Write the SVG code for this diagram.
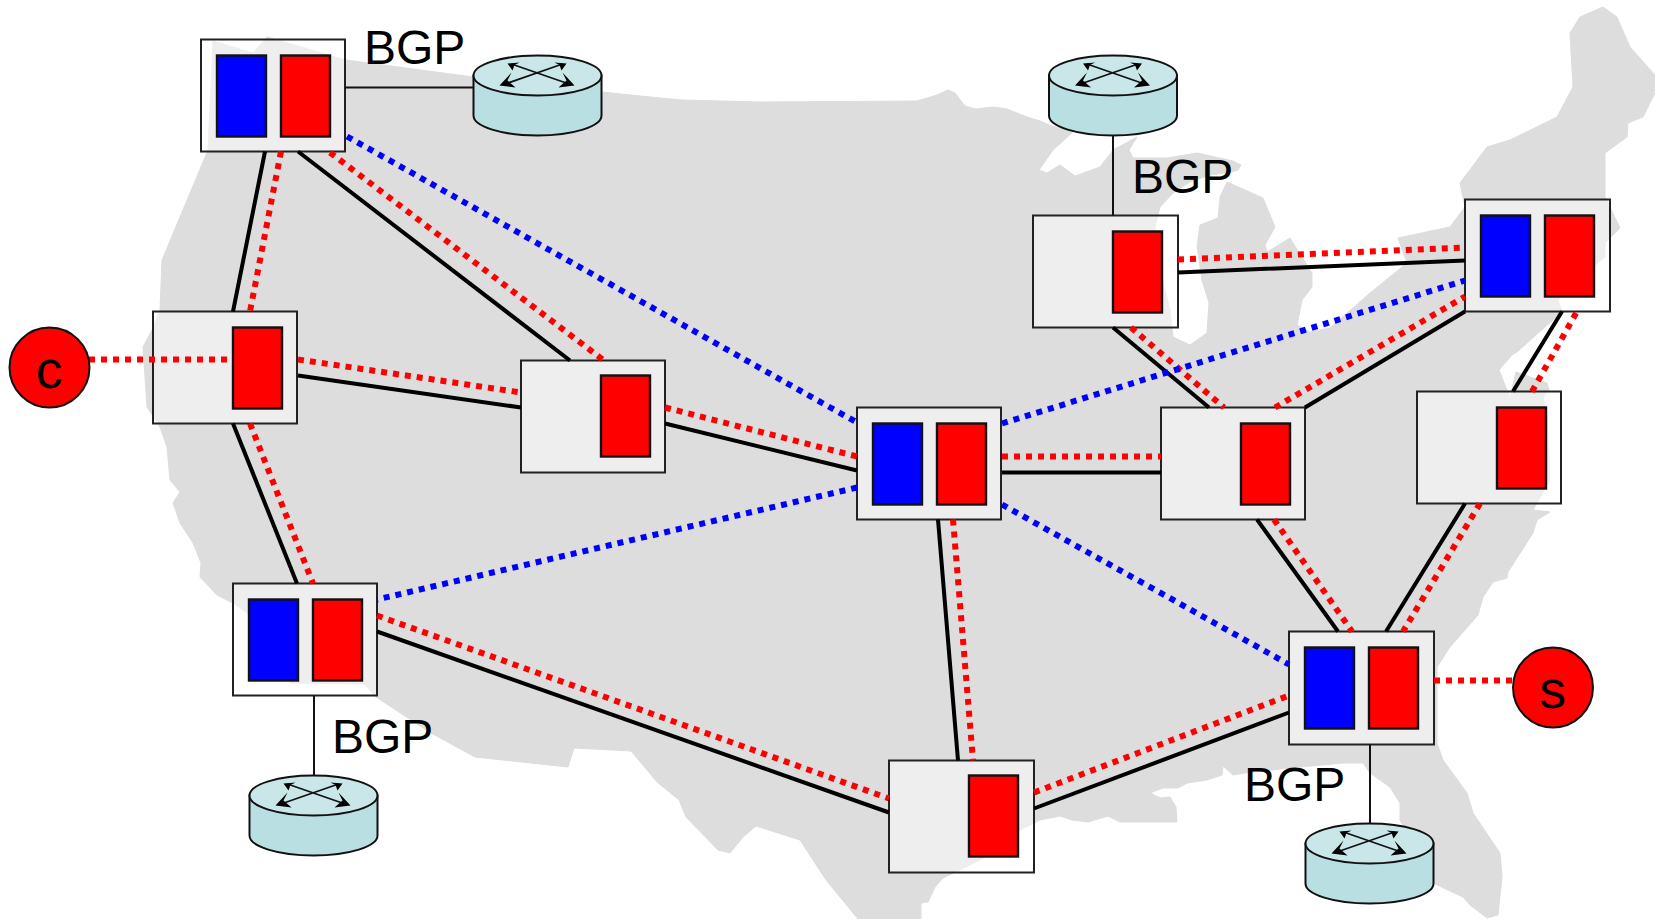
<svg xmlns="http://www.w3.org/2000/svg" width="1655" height="919" viewBox="0 0 1655 919">
<style>
.box{fill:#fff;fill-opacity:.5;stroke:#222;stroke-width:2}
.b{fill:#00f;stroke:#111;stroke-width:2.400}
.r{fill:#f00;stroke:#111;stroke-width:2.400}
.k{stroke:#000;stroke-width:4;fill:none}
.t{stroke:#111;stroke-width:2;fill:none}
.dr{stroke:#f00;stroke-width:6;stroke-dasharray:6 6;fill:none}
.db{stroke:#00f;stroke-width:6;stroke-dasharray:6 6;fill:none}
text{font-family:"Liberation Sans",Arial,sans-serif;fill:#000}
.bgp{font-size:48px}
.lbl{font-size:54px;text-anchor:middle}
.host{fill:#f00;stroke:#111;stroke-width:2}
</style>
<defs>
<g id="router">
<path d="M-64 0V40A64 20 0 0 0 64 40V0Z" fill="#b9dfe3" stroke="#111" stroke-width="2"/>
<ellipse cx="0" cy="0" rx="64" ry="20" fill="#c9e6e9" stroke="#111" stroke-width="2"/>
<path d="M-34 9L25-11.500M-26-11.500L33 9" stroke="#111" stroke-width="1.800" fill="none"/>
<path d="M-38 10L-26-3L-30 5L-22 12Z M37 10L25-3L29 5L21 12Z" fill="#000"/>
<path d="M29-12L17-13L22-10.500L24-5ZM-30-12L-18-13L-23-10.500L-25-5Z" fill="#000"/>
</g>
</defs>
<path id="map" fill="#ddd" stroke="#ddd" stroke-width="1" stroke-linejoin="round" d="M213 41L253 53L267 37L346 60L473 77L602 92L650 97L682 100L760 102L917 101L937 95L948 90L955 93L965 106L975 109L993 107L1007 109L1027 117L1040 121L1049 125L1073 132L1053 150L1039 170L1047 173L1060 165L1075 176L1100 167L1113 150L1137 137L1129 150L1133 158L1167 158L1197 153L1233 161L1241 165L1238 170L1232 172L1210 175L1190 182L1173 193L1160 207L1155 227L1160 270L1170 310L1173 337L1190 345L1207 333L1209 303L1202 280L1197 247L1200 225L1218 218L1220 197L1227 182L1263 198L1275 227L1265 245L1267 252L1290 238L1312 273L1312 287L1302 300L1297 325L1310 332L1330 328L1370 293L1407 263L1398 238L1450 227L1465 207L1460 183L1487 147L1510 140L1557 117L1573 87L1570 33L1580 17L1603 7L1617 17L1630 47L1655 75L1655 93L1643 117L1628 123L1627 137L1605 153L1605 197L1620 228L1605 243L1605 257L1593 267L1558 300L1562 312L1517 352L1512 355L1499 370L1510 398L1516 372L1547 383L1549 390L1543 397L1547 412L1550 480L1533 510L1550 512L1537 520L1533 533L1508 572L1507 578L1493 582L1483 597L1478 615L1450 647L1437 667L1437 743L1443 760L1467 793L1473 813L1500 853L1502 877L1498 915L1487 918L1470 905L1463 897L1433 883L1400 820L1400 803L1390 787L1370 773L1363 763L1343 763L1290 768L1245 773L1233 775L1223 766L1222 775L1207 780L1187 783L1178 788L1163 788L1150 793L1160 798L1170 797L1176 807L1177 822L1120 822L1108 816L1088 822L1072 820L1060 816L1040 820L1020 830L990 855L960 870L943 878L935 887L928 902L921 903L921 919L858 919L826 880L800 840L756 826L743 837L730 853L718 850L686 817L679 800L657 782L631 751L574 748L568 767L475 757L431 733L376 697L364 684L290 683L250 615L233 603L217 595L200 577L201 563L193 543L180 523L173 503L180 492L170 480L167 447L160 427L147 407L143 347L152 330L160 310L162 260L208 150Z"/>
<g transform="translate(0 .5)">
<g id="n1"><rect class="box" x="201" y="39" width="144" height="112"/><rect class="b" x="217" y="55" width="49" height="81"/><rect class="r" x="281" y="55" width="49" height="81"/></g>
<g id="n2"><rect class="box" x="153" y="311" width="144" height="112"/><rect class="r" x="233" y="327" width="49" height="81"/></g>
<g id="n3"><rect class="box" x="521" y="360" width="144" height="112"/><rect class="r" x="601" y="375" width="49" height="81"/></g>
<g id="n4"><rect class="box" x="857" y="407" width="144" height="112"/><rect class="b" x="873" y="423" width="49" height="81"/><rect class="r" x="937" y="423" width="49" height="81"/></g>
<g id="n5"><rect class="box" x="1161" y="407" width="144" height="112"/><rect class="r" x="1241" y="423" width="49" height="81"/></g>
<g id="n6"><rect class="box" x="1033" y="215" width="145" height="112"/><rect class="r" x="1113" y="231" width="49" height="81"/></g>
<g id="n7"><rect class="box" x="1465" y="199" width="145" height="112"/><rect class="b" x="1481" y="215" width="49" height="81"/><rect class="r" x="1545" y="215" width="49" height="81"/></g>
<g id="n8"><rect class="box" x="1417" y="391" width="144" height="112"/><rect class="r" x="1497" y="407" width="49" height="81"/></g>
<g id="n9"><rect class="box" x="1289" y="631" width="145" height="113"/><rect class="b" x="1305" y="647" width="49" height="81"/><rect class="r" x="1369" y="647" width="49" height="81"/></g>
<g id="n10"><rect class="box" x="233" y="583" width="144" height="112"/><rect class="b" x="249" y="599" width="49" height="81"/><rect class="r" x="313" y="599" width="49" height="81"/></g>
<g id="n11"><rect class="box" x="889" y="760" width="145" height="112"/><rect class="r" x="969" y="775" width="49" height="81"/></g>

<g id="router-a"><use href="#router" x="537.500" y="75"/></g>
<g id="router-b"><use href="#router" x="1113" y="75"/></g>
<g id="router-c"><use href="#router" x="1369.500" y="843"/></g>
<g id="router-d"><use href="#router" x="313.500" y="795"/></g>

<g id="connectors">
<path class="t" d="M345 87H473M1113 135V215M1370 744V823M314 695V775"/>
<path class="k" d="M265 151L233 311M298 151L570 360M298 375L521 407M665 423L857 470M1002 472H1161M377 631L889 812M938 519L958 760M1034 808L1289 712M1257 519L1338 631M1465 503L1386 631M1513 391L1562 311M1305 407L1465 311M1113 327L1209 407M1178 272L1465 260M233 423L297 583"/>
<path class="dr" d="M281 151L250 311"/>
<path class="dr" d="M330 152L604 360"/>
<path class="dr" d="M298 359L521 392"/>
<path class="dr" d="M665 407L857 456"/>
<path class="dr" d="M1002 456H1161"/>
<path class="dr" d="M377 615L889 798"/>
<path class="dr" d="M953 519L973 760"/>
<path class="dr" d="M1034 792L1289 695"/>
<path class="dr" d="M1274 519L1352 631"/>
<path class="dr" d="M1480 503L1403 631"/>
<path class="dr" d="M1532 391L1577 311"/>
<path class="dr" d="M1275 407L1465 296"/>
<path class="dr" d="M1131 327L1224 407"/>
<path class="dr" d="M1178 259L1465 247"/>
<path class="dr" d="M250 423L313 583"/>
<path class="dr" d="M89 359H230"/>
<path class="dr" d="M1434 680H1513"/>
<path class="db" d="M347 136L857 422"/>
<path class="db" d="M1002 423L1465 280"/>
<path class="db" d="M857 487L377 599"/>
<path class="db" d="M1002 504L1289 664"/>
</g>

<g id="host-c"><circle class="host" cx="49.500" cy="367" r="40"/><text class="lbl" x="49.500" y="387">c</text></g>
<g id="host-s"><circle class="host" cx="1553" cy="687" r="40"/><text class="lbl" x="1553" y="707">s</text></g>
<g id="labels">
<text class="bgp" x="364" y="63">BGP</text>
<text class="bgp" x="1132" y="192">BGP</text>
<text class="bgp" x="1244" y="800">BGP</text>
<text class="bgp" x="332" y="752">BGP</text>
</g>
</g>
</svg>
